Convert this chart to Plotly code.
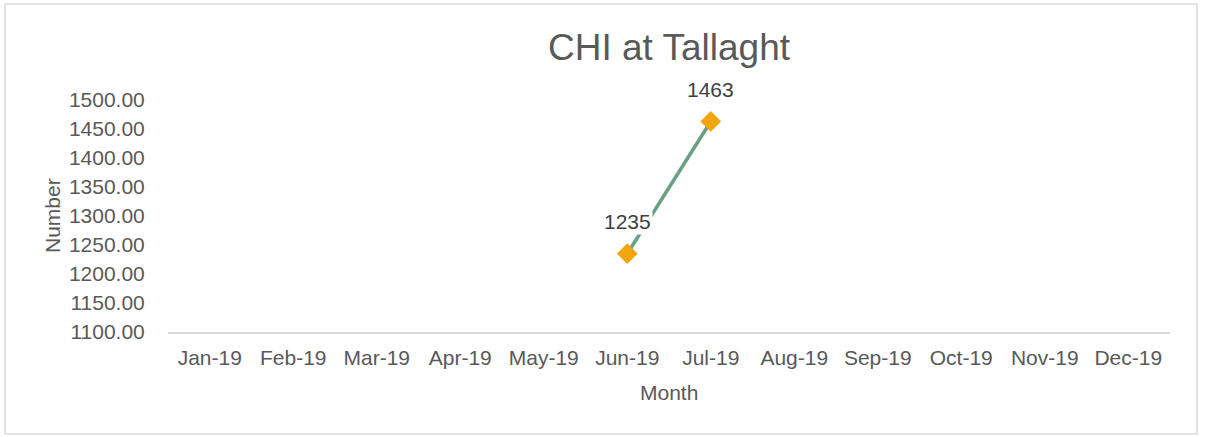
import plotly.graph_objects as go

months = ["Jan-19", "Feb-19", "Mar-19", "Apr-19", "May-19", "Jun-19",
          "Jul-19", "Aug-19", "Sep-19", "Oct-19", "Nov-19", "Dec-19"]
values = [None, None, None, None, None, 1235, 1463, None, None, None, None, None]
y_ticks = [1100, 1150, 1200, 1250, 1300, 1350, 1400, 1450, 1500]

FONT = "Liberation Sans, Arial, sans-serif"
GREY = "#595959"

fig = go.Figure()
fig.add_trace(go.Scatter(
    x=months, y=values, mode="lines+markers",
    line=dict(color="#6A9F86", width=3.5),
    marker=dict(symbol="diamond", size=16, color="#F2A60D",
                line=dict(width=0)),
    connectgaps=False, showlegend=False, hoverinfo="skip",
))

for m, v in zip(months, values):
    if v is not None:
        fig.add_annotation(x=m, y=v, text=str(v), showarrow=False,
                           yshift=32, bgcolor="white",
                           font=dict(family=FONT, size=21, color="#404040"))

fig.update_layout(
    width=1205, height=437,
    margin=dict(l=168, r=35, t=100, b=105),
    paper_bgcolor="white", plot_bgcolor="white",
    title=dict(text="CHI at Tallaght", x=0.5, xref="paper", y=0.892, yanchor="middle",
               font=dict(family=FONT, size=37, color=GREY)),
    font=dict(family=FONT, color=GREY),
    xaxis=dict(type="category", categoryorder="array", categoryarray=months,
               range=[-0.5, 11.5], showgrid=False, zeroline=False,
               showline=True, linecolor="#D9D9D9", linewidth=1.5,
               ticks="outside", ticklen=6, tickcolor="rgba(0,0,0,0)",
               tickfont=dict(family=FONT, size=21, color=GREY)),
    yaxis=dict(range=[1100, 1500], tickvals=y_ticks,
               ticktext=[f"{t:.2f}" for t in y_ticks],
               showgrid=False, zeroline=False, showline=False,
               ticks="outside", ticklen=18, tickcolor="rgba(0,0,0,0)",
               tickfont=dict(family=FONT, size=21, color=GREY)),
)

# axis titles
fig.add_annotation(text="Month", xref="paper", yref="paper",
                   x=0.5, y=(332 - 392) / 232, showarrow=False,
                   yanchor="middle",
                   font=dict(family=FONT, size=21, color=GREY))
fig.add_annotation(text="Number", xref="paper", yref="paper",
                   x=(52 - 168) / 1002, y=(332 - 216) / 232, showarrow=False,
                   textangle=-90, xanchor="center", yanchor="middle",
                   font=dict(family=FONT, size=21, color=GREY))

# chart border
fig.add_shape(type="rect", xref="paper", yref="paper",
              x0=(5 - 168) / 1002, x1=(1197 - 168) / 1002,
              y0=(332 - 434) / 232, y1=(332 - 4) / 232,
              line=dict(color="#D9D9D9", width=1.5), fillcolor="rgba(0,0,0,0)")

fig.write_html("out.html", config={"displayModeBar": False},
               post_script="document.body.style.margin='0';document.body.style.padding='0';document.body.style.overflow='hidden';")
